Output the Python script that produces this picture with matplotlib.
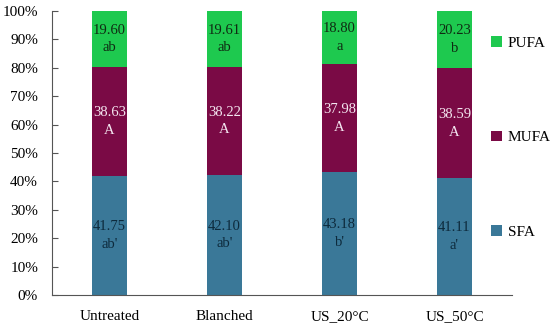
import matplotlib.pyplot as plt
import numpy as np

groups = ['Untreated', 'Blanched', 'US_20°C', 'US_50°C']
sfa = [41.75, 42.10, 43.18, 41.11]
mufa = [38.63, 38.22, 37.98, 38.59]
pufa = [19.60, 19.61, 18.80, 20.23]
sfa_lbl = ["ab'", "ab'", "b'", "a'"]
mufa_lbl = ['A', 'A', 'A', 'A']
pufa_lbl = ['ab', 'ab', 'a', 'b']

plt.rcParams['font.family'] = ['Liberation Serif', 'DejaVu Serif']

# stacked to 100 %
tot = np.array(sfa) + np.array(mufa) + np.array(pufa)
s = np.array(sfa) / tot * 100
m = np.array(mufa) / tot * 100
p = np.array(pufa) / tot * 100

c_sfa, c_mufa, c_pufa = '#3a7898', '#7a0a45', '#1ec94f'

fig = plt.figure(figsize=(5.5, 3.28), dpi=100)
ax = fig.add_axes([52 / 550, 1 - 295 / 328, 460 / 550, 284 / 328])
x = np.arange(len(groups))
w = 0.31
b1 = ax.bar(x, s, w, color=c_sfa, label='SFA')
b2 = ax.bar(x, m, w, bottom=s, color=c_mufa, label='MUFA')
b3 = ax.bar(x, p, w, bottom=s + m, color=c_pufa, label='PUFA')

for i in range(len(groups)):
    ax.text(x[i], s[i] / 2, f'{sfa[i]:.2f}\n{sfa_lbl[i]}', ha='center', va='center',
            color='#0d2a3c', fontsize=10.5, linespacing=1.45)
    ax.text(x[i], s[i] + m[i] / 2, f'{mufa[i]:.2f}\n{mufa_lbl[i]}', ha='center', va='center',
            color='#f4e6f0', fontsize=10.5, linespacing=1.45)
    ax.text(x[i], s[i] + m[i] + p[i] / 2, f'{pufa[i]:.2f}\n{pufa_lbl[i]}', ha='center', va='center',
            color='#0f2a12', fontsize=10.5, linespacing=1.45)

ax.set_xlim(-0.5, len(groups) - 0.5)
ax.set_ylim(0, 100)
ax.set_yticks(np.arange(0, 101, 10))
ax.set_yticklabels([f'{v}%' for v in range(0, 101, 10)])
ax.set_xticks(x)
ax.set_xticklabels(groups)
ax.tick_params(axis='y', direction='in', length=4, color='#555555', labelsize=11, pad=10)
ax.tick_params(axis='x', length=0, labelsize=11, pad=11)
for sp in ['top', 'right']:
    ax.spines[sp].set_visible(False)
for sp in ['left', 'bottom']:
    ax.spines[sp].set_color('#555555')
    ax.spines[sp].set_linewidth(0.8)

fig.legend(handles=[b3, b2, b1], labels=['PUFA', 'MUFA', 'SFA'], loc='upper left',
           bbox_to_anchor=(491 / 550, 1 - 36 / 328), frameon=False, fontsize=11,
           handlelength=0.7, handleheight=0.7, handletextpad=0.4, labelspacing=5.3,
           borderaxespad=0, borderpad=0)

fig.savefig('out.png', dpi=100)
